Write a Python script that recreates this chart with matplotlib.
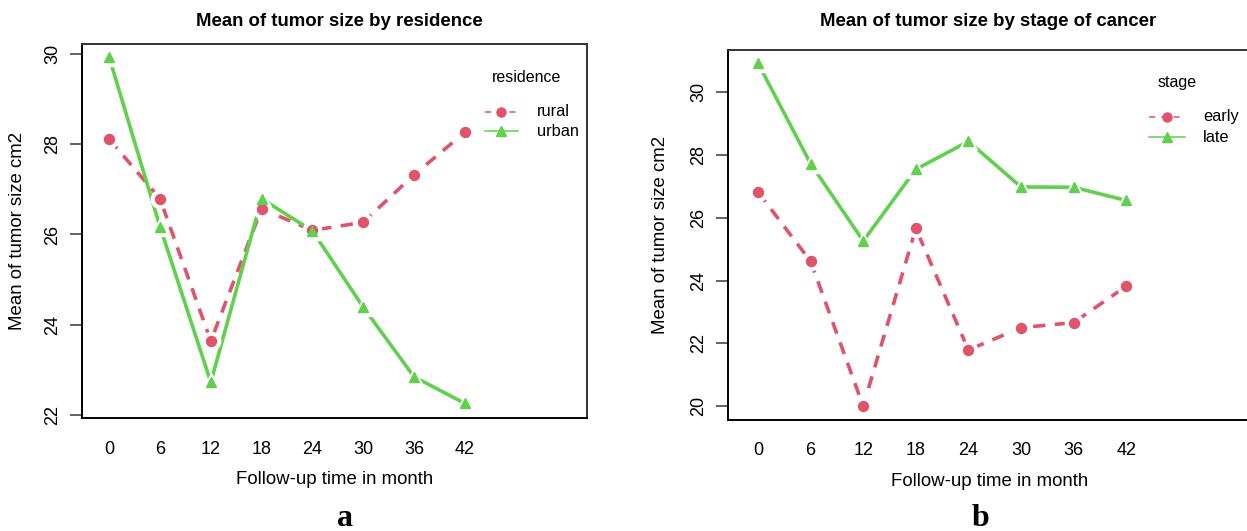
import matplotlib
matplotlib.use('Agg')
import matplotlib.pyplot as plt
import numpy as np

plt.rcParams['font.family'] = ['Liberation Sans', 'DejaVu Sans']

months = [0, 6, 12, 18, 24, 30, 36, 42]

rural = [28.11, 26.79, 23.64, 26.57, 26.09, 26.27, 27.32, 28.26]
urban = [29.92, 26.17, 22.73, 26.79, 26.08, 24.39, 22.85, 22.26]

early = [26.82, 24.61, 20.00, 25.66, 21.79, 22.50, 22.66, 23.82]
late = [30.92, 27.72, 25.26, 27.54, 28.43, 26.98, 26.97, 26.55]

RED = '#DF536B'
GREEN = '#61D04F'
W, H = 1247, 531


def px(x0, y0, x1, y1):
    # pixel box (left, top, right, bottom) -> figure fraction rect
    return [x0 / W, 1 - y1 / H, (x1 - x0) / W, (y1 - y0) / H]


def draw_series(ax, xs, ys, color, marker, ms, ls):
    ax.plot(xs, ys, color=color, lw=2.6, ls=ls, dashes=(3.4, 2.6) if ls == '--' else (None, None),
            zorder=2)
    ax.plot(xs, ys, ls='none', marker=marker, ms=ms + 6, color='white', mec='white', zorder=3)
    ax.plot(xs, ys, ls='none', marker=marker, ms=ms, color=color, mec=color, zorder=4)


def panel(rect, s1, s2, names, ylim, yticks, xlim, title, title_x, leg, ylab_x):
    ax = fig.add_axes(rect)
    xs = np.arange(1, len(months) + 1)
    draw_series(ax, xs, s1, RED, 'o', 7.2, '--')
    draw_series(ax, xs, s2, GREEN, '^', 7.6, '-')
    ax.set_xlim(*xlim)
    ax.set_ylim(*ylim)
    ax.set_xticks(xs)
    ax.set_xticklabels([str(m) for m in months], fontsize=13)
    ax.tick_params(axis='x', length=0, pad=16)
    ax.set_yticks(yticks)
    ax.set_yticklabels([str(t) for t in yticks], fontsize=13, rotation=90, va='center')
    ax.tick_params(axis='y', length=9, width=1.3, color='#555555', pad=6)
    for sp in ax.spines.values():
        sp.set_linewidth(1.4)
        sp.set_color('#333333')
    ax.spines['left'].set_color('black')
    ax.spines['bottom'].set_color('black')
    ax.set_xlabel('Follow-up time in month', fontsize=13.4, labelpad=10)
    ax.set_ylabel('Mean of tumor size cm2', fontsize=13.4)
    ax.yaxis.set_label_coords(ylab_x / W, 0.5,
                              transform=plt.matplotlib.transforms.blended_transform_factory(
                                  fig.transFigure, ax.transAxes))
    fig.text(title_x / W, 1 - 21 / H, title, ha='center', va='center',
             fontsize=13.4, fontweight='bold')

    # legend drawn in figure pixels
    (tx, ty), (lx0, lx1), (ya, yb), labx = leg
    fig.text(tx / W, 1 - ty / H, names[0], ha='center', va='center', fontsize=11.5)
    for yy, col, mk, ls, lab in [(ya, RED, 'o', '--', names[1]), (yb, GREEN, '^', '-', names[2])]:
        fig.add_artist(plt.Line2D([lx0 / W, lx1 / W], [1 - yy / H, 1 - yy / H], color=col, lw=1.1,
                                  ls=ls, dashes=(4, 4) if ls == '--' else (None, None)))
        fig.add_artist(plt.Line2D([(lx0 + lx1) / 2 / W], [1 - yy / H], color=col, marker=mk,
                                  ms=6.5, ls='none'))
        fig.text(labx / W, 1 - yy / H, lab, ha='left', va='center', fontsize=11.8)
    return ax


fig = plt.figure(figsize=(W / 100, H / 100), dpi=100)

panel(px(82.3, 44.3, 586.7, 418.3), rural, urban, ['residence', 'rural', 'urban'],
      (21.93, 30.21), [22, 24, 26, 28, 30], (0.47, 10.40),
      'Mean of tumor size by residence', 339,
      ((527, 78), (485, 518), (112, 131), 537), 26)

panel(px(728.3, 50, 1250.6, 420), early, late, ['stage', 'early', 'late'],
      (19.56, 31.34), [20, 22, 24, 26, 28, 30], (0.435, 10.365),
      'Mean of tumor size by stage of cancer', 988,
      ((1177, 83), (1149, 1185), (117, 137), 1203), 669)

fig.text(345 / W, 1 - 518 / H, 'a', ha='center', va='center', fontsize=23,
         fontweight='bold', family='Liberation Serif')
fig.text(981 / W, 1 - 518 / H, 'b', ha='center', va='center', fontsize=23,
         fontweight='bold', family='Liberation Serif')

fig.savefig('out.png', dpi=100)
